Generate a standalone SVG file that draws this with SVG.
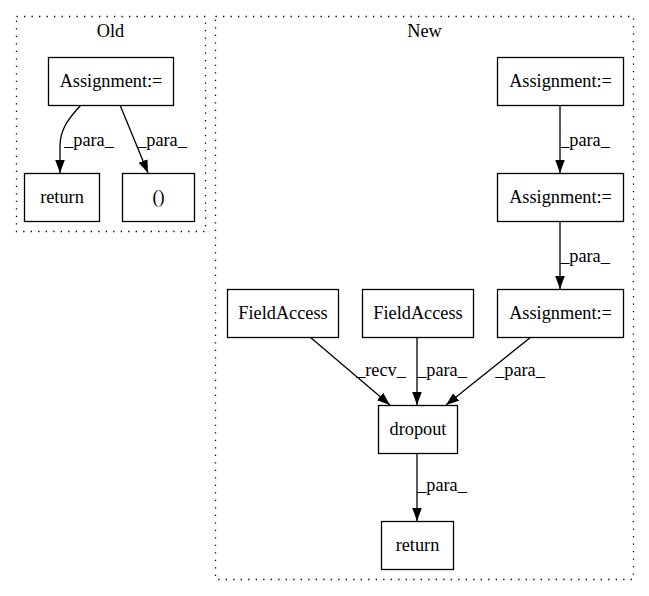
<svg xmlns="http://www.w3.org/2000/svg" width="649" height="596" viewBox="0 0 649 596">
<style>
.cl{fill:none;stroke:#000;stroke-width:1.3;stroke-dasharray:1.3,6.2}
.nd{fill:#fff;stroke:#000;stroke-width:1.3}
text{font-family:"Liberation Serif","Times New Roman",serif;font-size:18.3px;fill:#000}
.c{text-anchor:middle}
.e{fill:none;stroke:#000;stroke-width:1.3;marker-end:url(#ah)}
</style>
<defs>
<marker id="ah" markerUnits="userSpaceOnUse" markerWidth="13" markerHeight="10" refX="13" refY="4.8" orient="auto">
<path d="M0,0 L13,4.8 L0,9.6 z" fill="#000"/>
</marker>
</defs>
<rect width="649" height="596" fill="#fff"/>
<g id="cluster_old">
<rect class="cl" x="16.5" y="16.5" width="189" height="215"/>
<text class="c" x="110.5" y="37">Old</text>
</g>
<g id="cluster_new">
<rect class="cl" x="215.5" y="16.5" width="418" height="563"/>
<text class="c" x="424.5" y="37">New</text>
</g>
<g id="connectors">
<path class="e" d="M81,105 C69,118 60,129 60,146 L60,173"/>
<text class="c" x="89" y="146">_para_</text>
<path class="e" d="M120,105 L148,173"/>
<text class="c" x="162" y="146">_para_</text>
<path class="e" d="M560,105 L560,173"/>
<text class="c" x="585" y="146">_para_</text>
<path class="e" d="M560,221 L560,289"/>
<text class="c" x="585" y="262">_para_</text>
<path class="e" d="M310,337 L390,405"/>
<text class="c" x="381" y="376">_recv_</text>
<path class="e" d="M417,337 L417,405"/>
<text class="c" x="442" y="376">_para_</text>
<path class="e" d="M531,337 L446,405"/>
<text class="c" x="520" y="376">_para_</text>
<path class="e" d="M417,453 L417,521"/>
<text class="c" x="442" y="491">_para_</text>
</g>
<g id="old_assign"><rect class="nd" x="48.5" y="57.5" width="125" height="48"/><text class="c" x="111" y="87">Assignment:=</text></g>
<g id="old_return"><rect class="nd" x="24.5" y="173.5" width="75" height="48"/><text class="c" x="62" y="203">return</text></g>
<g id="old_paren"><rect class="nd" x="122.5" y="173.5" width="72" height="48"/><text class="c" x="158.5" y="203">()</text></g>
<g id="new_assign1"><rect class="nd" x="497.5" y="57.5" width="126" height="48"/><text class="c" x="560.5" y="87">Assignment:=</text></g>
<g id="new_assign2"><rect class="nd" x="497.5" y="173.5" width="126" height="48"/><text class="c" x="560.5" y="203">Assignment:=</text></g>
<g id="new_assign3"><rect class="nd" x="497.5" y="289.5" width="126" height="48"/><text class="c" x="560.5" y="319">Assignment:=</text></g>
<g id="field1"><rect class="nd" x="227.5" y="289.5" width="111" height="48"/><text class="c" x="283" y="319">FieldAccess</text></g>
<g id="field2"><rect class="nd" x="362.5" y="289.5" width="111" height="48"/><text class="c" x="418" y="319">FieldAccess</text></g>
<g id="dropout"><rect class="nd" x="378.5" y="405.5" width="79" height="48"/><text class="c" x="418" y="435">dropout</text></g>
<g id="new_return"><rect class="nd" x="381.5" y="521.5" width="72" height="48"/><text class="c" x="417.5" y="551">return</text></g>
</svg>
